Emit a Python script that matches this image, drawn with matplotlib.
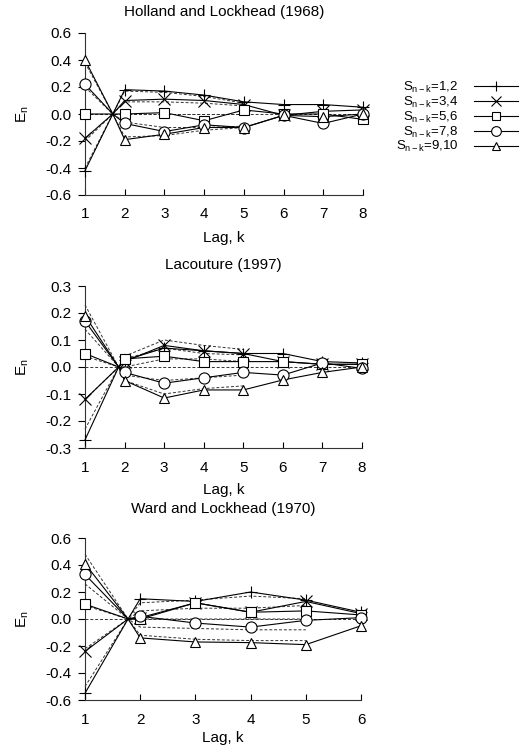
import matplotlib
matplotlib.use("Agg")
import matplotlib.pyplot as plt
from matplotlib.lines import Line2D

plt.rcParams['font.family'] = ['Liberation Sans', 'DejaVu Sans']
plt.rcParams['mathtext.fontset'] = 'custom'
plt.rcParams['mathtext.rm'] = 'Liberation Sans'
plt.rcParams['mathtext.it'] = 'Liberation Sans:italic'

# ---------------- data ----------------
series_labels = [r"S$_{\mathrm{n-k}}$=1,2", r"S$_{\mathrm{n-k}}$=3,4", r"S$_{\mathrm{n-k}}$=5,6",
                 r"S$_{\mathrm{n-k}}$=7,8", r"S$_{\mathrm{n-k}}$=9,10"]
series_markers = ['+', 'x', 's', 'o', '^']

# Holland and Lockhead (1968)
hl_title = "Holland and Lockhead (1968)"
hl_lags = [1, 2, 3, 4, 5, 6, 7, 8]
hl_cross = 1.7
hl_obs = [
    [-0.42, 0.18, 0.17, 0.14, 0.09, 0.07, 0.07, 0.05],
    [-0.18, 0.10, 0.11, 0.10, 0.07, -0.01, 0.02, 0.03],
    [0.00, 0.00, 0.01, -0.05, 0.03, 0.00, 0.00, -0.04],
    [0.22, -0.07, -0.13, -0.08, -0.10, -0.01, -0.07, 0.00],
    [0.40, -0.19, -0.15, -0.10, -0.10, -0.01, -0.02, 0.00],
]
hl_pred_lags = [1, 2, 3, 4, 5]
hl_pred = [
    [-0.40, 0.17, 0.16, 0.13, 0.08],
    [-0.20, 0.09, 0.09, 0.08, 0.06],
    [0.00, 0.00, 0.00, 0.00, 0.00],
    [0.20, -0.06, -0.10, -0.10, -0.09],
    [0.38, -0.17, -0.16, -0.12, -0.10],
]
hl_yticks = [-0.6, -0.4, -0.2, 0.0, 0.2, 0.4, 0.6]

# Lacouture (1997)
lc_title = "Lacouture (1997)"
lc_lags = [1, 2, 3, 4, 5, 6, 7, 8]
lc_cross = 1.85
lc_obs = [
    [-0.27, 0.025, 0.07, 0.06, 0.05, 0.05, 0.02, 0.015],
    [-0.12, 0.02, 0.08, 0.06, 0.05, 0.02, 0.01, 0.01],
    [0.05, 0.03, 0.04, 0.02, 0.02, 0.02, 0.01, 0.01],
    [0.17, -0.02, -0.06, -0.04, -0.02, -0.03, 0.015, -0.005],
    [0.19, -0.05, -0.115, -0.085, -0.085, -0.048, -0.02, 0.0],
]
lc_pred_lags = [1, 2, 3, 4, 5]
lc_pred = [
    [-0.23, 0.04, 0.10, 0.08, 0.065],
    [-0.12, 0.03, 0.07, 0.05, 0.045],
    [0.04, 0.00, 0.03, 0.03, 0.02],
    [0.14, -0.03, -0.05, -0.04, -0.03],
    [0.23, -0.05, -0.10, -0.08, -0.07],
]
lc_yticks = [-0.3, -0.2, -0.1, 0.0, 0.1, 0.2, 0.3]

# Ward and Lockhead (1970)
wl_title = "Ward and Lockhead (1970)"
wl_lags = [1, 2, 3, 4, 5, 6]
wl_cross = 1.78
wl_obs = [
    [-0.55, 0.15, 0.13, 0.20, 0.14, 0.05],
    [-0.24, 0.01, 0.12, 0.05, 0.13, 0.04],
    [0.11, 0.00, 0.12, 0.05, 0.06, 0.03],
    [0.33, 0.02, -0.03, -0.06, -0.01, 0.01],
    [0.41, -0.14, -0.17, -0.175, -0.19, -0.05],
]
wl_pred_lags = [1, 2, 3, 4, 5]
wl_pred = [
    [-0.50, 0.12, 0.14, 0.17, 0.15],
    [-0.22, 0.06, 0.08, 0.08, 0.10],
    [0.10, 0.00, 0.00, 0.00, 0.00],
    [0.26, -0.06, -0.07, -0.08, -0.08],
    [0.48, -0.12, -0.15, -0.16, -0.16],
]
wl_yticks = [-0.6, -0.4, -0.2, 0.0, 0.2, 0.4, 0.6]

x_label = "Lag, k"
y_label = r"E$_\mathrm{n}$"

# ---------------- figure ----------------
W, H = 520, 751
fig = plt.figure(figsize=(W / 100, H / 100), dpi=100)

MS = {'+': 8, 'x': 8, 's': 7, 'o': 8, '^': 7}


def with_cross(lags, vals, cross):
    xs = [lags[0], cross] + list(lags[1:])
    ys = [vals[0], 0.0] + list(vals[1:])
    return xs, ys


def panel(rect, title, lags, cross, obs, plags, pred, yticks, title_pad, xlabelpad):
    ax = fig.add_axes(rect)
    ax.axhline(0, color='#333333', lw=0.7, ls=(0, (3, 2)), zorder=1)
    for vals in pred:
        xs, ys = with_cross(plags, vals, cross)
        ax.plot(xs, ys, color='#333333', lw=0.7, ls=(0, (3, 2)), zorder=2, clip_on=False)
    for vals, m in zip(obs, series_markers):
        xs, ys = with_cross(lags, vals, cross)
        ax.plot(xs, ys, color='black', lw=0.8, zorder=3, clip_on=False)
        ax.plot(lags, vals, ls='none', marker=m, ms=MS[m],
                mfc='white', mec='black', mew=0.8, zorder=4, clip_on=False)
    ax.set_xlim(lags[0], lags[-1])
    ax.set_ylim(yticks[0], yticks[-1])
    ax.set_xticks(lags)
    ax.set_yticks(yticks)
    ax.set_yticklabels([f"{t:.1f}" for t in yticks])
    for s in ['top', 'right']:
        ax.spines[s].set_visible(False)
    for s in ['left', 'bottom']:
        ax.spines[s].set_linewidth(0.8)
        ax.spines[s].set_color('#333333')
    ax.tick_params(axis='x', direction='in', length=4, width=0.8, pad=9, labelsize=11)
    ax.tick_params(axis='y', direction='out', length=5, width=0.8, pad=5, labelsize=11)
    ax.set_title(title, fontsize=11, pad=title_pad)
    ax.set_xlabel(x_label, fontsize=11, labelpad=xlabelpad)
    ax.set_ylabel(y_label, fontsize=11, labelpad=10)
    return ax


def rect(left_px, right_px, top_px, bottom_px):
    return [left_px / W, 1 - bottom_px / H, (right_px - left_px) / W, (bottom_px - top_px) / H]


ax1 = panel(rect(85, 363, 33, 195), hl_title, hl_lags, hl_cross, hl_obs,
            hl_pred_lags, hl_pred, hl_yticks, 12, 7)
ax2 = panel(rect(85, 362, 286, 448), lc_title, lc_lags, lc_cross, lc_obs,
            lc_pred_lags, lc_pred, lc_yticks, 12, 6)
ax3 = panel(rect(85, 361, 538, 700), wl_title, wl_lags, wl_cross, wl_obs,
            wl_pred_lags, wl_pred, wl_yticks, 18, 3)

handles = [Line2D([], [], color='black', lw=0.8, marker=m, ms=MS[m] - 1,
                  mfc='white', mec='black', mew=0.8) for m in series_markers]
fig.legend(handles, series_labels, loc='upper left', bbox_to_anchor=(396 / W, 1 - 80 / H),
           frameon=False, markerfirst=False, fontsize=9.5, handlelength=3.3,
           labelspacing=-0.02, handletextpad=1.2, borderpad=0, borderaxespad=0)

fig.savefig("out.png", dpi=100)
